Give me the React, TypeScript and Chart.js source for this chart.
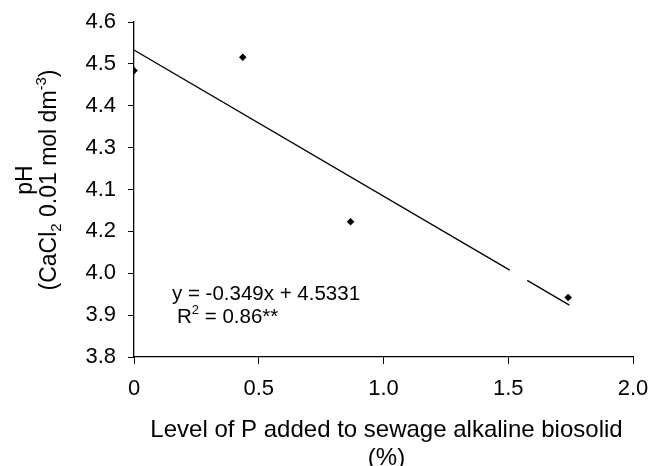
import React, { useEffect, useRef } from "react";
import { Chart, registerables } from "chart.js";

Chart.register(...registerables);

const xValues = [0, 0.436, 0.868, 1.74];
const pHValues = [4.484, 4.516, 4.123, 3.942];
const trendX = [0, 1.506, 1.506, 1.576, 1.745];
const trendY = [4.5331, 4.0075, null, 3.983, 3.924];
const xTickLabels = ["0", "0.5", "1.0", "1.5", "2.0"];
const yTickLabels = ["3.8", "3.9", "4.0", "4.2", "4.1", "4.3", "4.4", "4.5", "4.6"];
const equationText = "y = -0.349x + 4.5331";
const r2Text = " = 0.86**";
const xTitleLines = ["Level of P added to sewage alkaline biosolid", "(%)"];

type Seg = { t: string; k?: "sub" | "sup" };

function drawRich(ctx: CanvasRenderingContext2D, segs: Seg[], x: number, y: number, size: number, align: "left" | "center") {
  const fam = "'Liberation Sans', Arial, sans-serif";
  const small = Math.round(size * 0.65);
  let total = 0;
  for (const s of segs) {
    ctx.font = `${s.k ? small : size}px ${fam}`;
    total += ctx.measureText(s.t).width;
  }
  let cx = align === "center" ? x - total / 2 : x;
  ctx.textAlign = "left";
  ctx.textBaseline = "alphabetic";
  for (const s of segs) {
    ctx.font = `${s.k ? small : size}px ${fam}`;
    const dy = s.k === "sub" ? size * 0.22 : s.k === "sup" ? -size * 0.42 : 0;
    ctx.fillText(s.t, cx, y + dy);
    cx += ctx.measureText(s.t).width;
  }
}

const annotPlugin = {
  id: "annot",
  afterDraw(chart: any) {
    const ctx = chart.ctx as CanvasRenderingContext2D;
    const a = chart.chartArea;
    ctx.save();
    ctx.fillStyle = "#000";
    // equation
    drawRich(ctx, [{ t: equationText }], a.left + 38, 300, 20.5, "left");
    drawRich(ctx, [{ t: "R" }, { t: "2", k: "sup" }, { t: r2Text }], a.left + 43, 323, 20.5, "left");
    // x title
    const cxm = (a.left + a.right) / 2 + 3;
    drawRich(ctx, [{ t: xTitleLines[0] }], cxm, 437, 24, "center");
    drawRich(ctx, [{ t: xTitleLines[1] }], cxm, 465, 24, "center");
    // y title
    ctx.translate(0, 180);
    ctx.rotate(-Math.PI / 2);
    drawRich(ctx, [{ t: "pH" }], 0, 32, 23, "center");
    drawRich(
      ctx,
      [{ t: "(CaCl" }, { t: "2", k: "sub" }, { t: " 0.01 mol dm" }, { t: "-3", k: "sup" }, { t: ")" }],
      0,
      56,
      23,
      "center"
    );
    ctx.restore();
  },
};

export default function App() {
  const ref = useRef<HTMLCanvasElement>(null);
  useEffect(() => {
    if (!ref.current) return;
    const font = { family: "'Liberation Sans', Arial, sans-serif", size: 22 };
    const chart = new Chart(ref.current, {
      type: "scatter",
      data: {
        datasets: [
          {
            type: "line",
            data: trendX.map((x, i) => ({ x, y: trendY[i] as any })),
            borderColor: "#000",
            borderWidth: 1.3,
            pointRadius: 0,
            spanGaps: false,
            fill: false,
          } as any,
          {
            data: xValues.map((x, i) => ({ x, y: pHValues[i] })),
            pointStyle: "rectRot",
            pointRadius: 3.8,
            backgroundColor: "#000",
            borderColor: "#000",
            borderWidth: 0,
          },
        ],
      },
      options: {
        animation: false,
        responsive: false,
        maintainAspectRatio: false,
        layout: { padding: { top: 22, right: 19, left: 0, bottom: 0 } },
        plugins: { legend: { display: false }, tooltip: { enabled: false } },
        scales: {
          x: {
            type: "linear",
            min: 0,
            max: 2,
            afterFit(s: any) {
              s.height = 109;
              s.paddingLeft = 0;
              s.paddingRight = 0;
            },
            ticks: {
              stepSize: 0.5,
              color: "#000",
              font,
              padding: 12,
              maxRotation: 0,
              callback: (_v: any, i: number) => xTickLabels[i],
            },
            grid: { drawOnChartArea: false, tickLength: 7, color: "#000", lineWidth: 1 },
            border: { color: "#000", width: 1.3 },
          },
          y: {
            type: "linear",
            min: 3.8,
            max: 4.6,
            afterFit(s: any) {
              s.width = 134;
              s.paddingTop = 0;
              s.paddingBottom = 0;
            },
            ticks: {
              stepSize: 0.1,
              color: "#000",
              font,
              padding: 12,
              callback: (_v: any, i: number) => yTickLabels[i],
            },
            grid: { drawOnChartArea: false, tickLength: 6, color: "#000", lineWidth: 1 },
            border: { color: "#000", width: 1.3 },
          },
        },
      },
      plugins: [annotPlugin],
    } as any);
    return () => chart.destroy();
  }, []);
  return (
    <div style={{ position: "fixed", left: 0, top: 0, width: 652, height: 466, background: "#fff" }}>
      <canvas ref={ref} width={652} height={466} style={{ width: 652, height: 466, display: "block" }} />
    </div>
  );
}
